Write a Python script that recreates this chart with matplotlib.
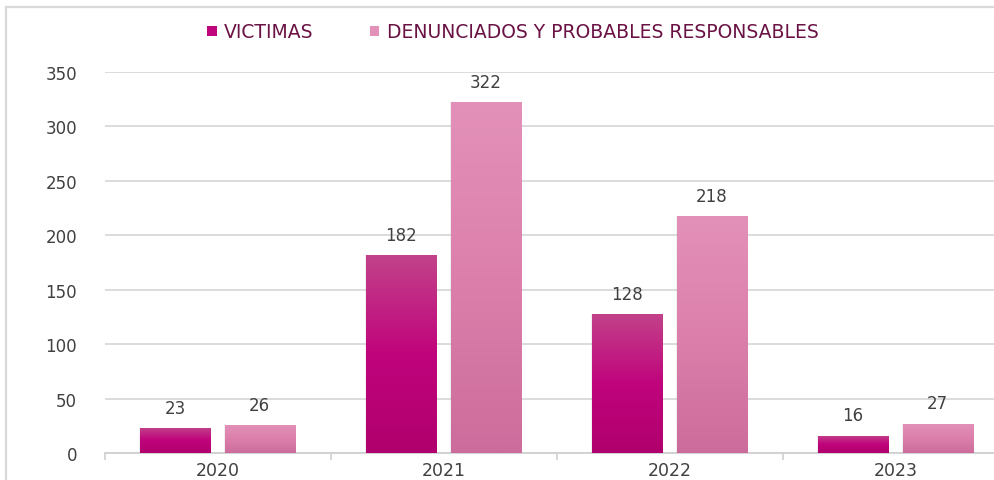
import numpy as np
import matplotlib
matplotlib.use("Agg")
from matplotlib import pyplot as plt
from matplotlib.patches import Rectangle, Patch
from matplotlib.lines import Line2D
from matplotlib.colors import LinearSegmentedColormap

plt.rcParams['font.family'] = ['DejaVu Sans']

years = ['2020', '2021', '2022', '2023']
victimas = [23, 182, 128, 16]
denunciados = [26, 322, 218, 27]
series_names = ['VICTIMAS', 'DENUNCIADOS Y PROBABLES RESPONSABLES']

# gradient stops (top -> bottom) for each series
grad_victimas = ['#c2438a', '#c0047c', '#b0006d']
grad_denunciados = ['#e391b9', '#dc80ab', '#cc6c9c']

fig = plt.figure(figsize=(9.95, 4.81), dpi=100)
ax = fig.add_axes([105 / 995, 27 / 481, 904 / 995, 381 / 481])

x = np.arange(len(years))
width = 0.31
offset = 0.19


def gradient_bars(xs, values, stops):
    cmap = LinearSegmentedColormap.from_list('g', stops)
    bars = ax.bar(xs, values, width, color=stops[1], zorder=3, linewidth=0)
    grad = np.linspace(0, 1, 256).reshape(-1, 1)
    for b in bars:
        bx, by = b.get_x(), b.get_y()
        bw, bh = b.get_width(), b.get_height()
        # soft shadow on the sides
        ax.add_patch(Rectangle((bx - 0.005, by), bw + 0.01, bh,
                               color='#000000', alpha=0.06, zorder=2, linewidth=0))
        im = ax.imshow(grad, cmap=cmap, aspect='auto', zorder=4,
                       extent=[bx, bx + bw, by, by + bh], origin='upper')
        im.set_clip_path(b)
    return bars


b1 = gradient_bars(x - offset, victimas, grad_victimas)
b2 = gradient_bars(x + offset - 0.005, denunciados, grad_denunciados)

for bars, vals in ((b1, victimas), (b2, denunciados)):
    for b, v in zip(bars, vals):
        ax.annotate(str(v), (b.get_x() + b.get_width() / 2, v),
                    xytext=(0, 8), textcoords='offset points',
                    ha='center', va='bottom', fontsize=12, color='#404040', zorder=5)

ax.set_xlim(-0.5, 3.5)
ax.set_ylim(0, 350)
ax.set_yticks(np.arange(0, 351, 50))
ax.set_xticks(x)
ax.set_xticklabels(years)
ax.set_xticks(np.arange(-0.5, 3.6, 1), minor=True)
ax.tick_params(axis='x', which='major', length=0, pad=6, labelsize=12.5, labelcolor='#404040')
ax.tick_params(axis='x', which='minor', length=5, color='#d0d0d0', width=1.2)
ax.tick_params(axis='y', length=0, pad=20, labelsize=12, labelcolor='#404040')

ax.grid(axis='y', color='#d9d9d9', linewidth=1.3, zorder=0)
ax.set_axisbelow(True)
for s in ['top', 'right', 'left']:
    ax.spines[s].set_visible(False)
ax.spines['bottom'].set_color('#d0d0d0')
ax.spines['bottom'].set_linewidth(1.3)
ax.spines['bottom'].set_zorder(1)

handles = [Patch(facecolor=grad_victimas[1]), Patch(facecolor=grad_denunciados[0])]
leg = fig.legend(handles, series_names, loc='center', bbox_to_anchor=(513 / 995, 448 / 481),
                 ncol=2, frameon=False, fontsize=13.5, handlelength=0.5, handleheight=0.5,
                 handletextpad=0.4, columnspacing=3.0)
for t in leg.get_texts():
    t.set_color('#6a1244')

# outer chart border, only top and left edges are inside the picture
top_y = (481 - 8) / 481
left_x = 6 / 995
fig.add_artist(Line2D([left_x, 1.0], [top_y, top_y], transform=fig.transFigure,
                      color='#d9d9d9', linewidth=1.6))
fig.add_artist(Line2D([left_x, left_x], [0, top_y], transform=fig.transFigure,
                      color='#d9d9d9', linewidth=1.6))

fig.savefig('out.png', dpi=100)
